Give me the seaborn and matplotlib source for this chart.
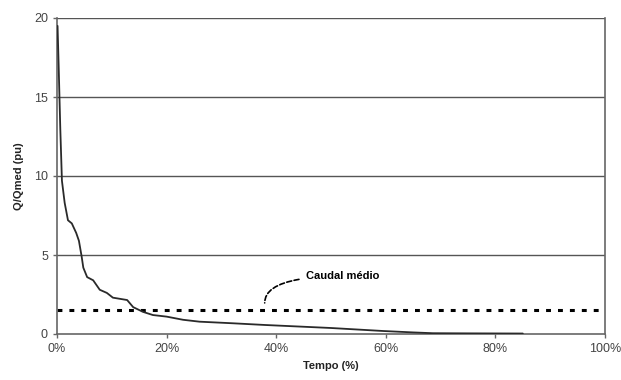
import matplotlib
matplotlib.use("Agg")
import matplotlib.pyplot as plt
import seaborn as sns
import pandas as pd
from matplotlib.ticker import PercentFormatter

# Duration curve (time % vs Q/Qmed)
tempo_pct = [0.1, 0.3, 0.6, 0.9, 1.4, 2.0, 2.7, 3.5, 4.0, 4.5, 4.8, 5.5, 6.6, 7.8,
             9.1, 10.2, 12.8, 13.9, 15.7, 17.5, 20.0, 23.0, 26.0, 32.0, 38.0,
             50.0, 59.5, 65.0, 68.6, 75.0, 85.0]
q_qmed = [19.5, 17.0, 13.0, 9.7, 8.3, 7.2, 7.0, 6.4, 5.9, 4.9, 4.2, 3.6, 3.4, 2.8,
          2.6, 2.3, 2.15, 1.7, 1.4, 1.2, 1.1, 0.9, 0.78, 0.68, 0.57,
          0.38, 0.19, 0.1, 0.05, 0.04, 0.03]
caudal_medio = 1.52
annotation_label = "Caudal médio"
x_ticks = [0, 20, 40, 60, 80, 100]
y_ticks = [0, 5, 10, 15, 20]

df = pd.DataFrame({"Tempo": tempo_pct, "Q": q_qmed})

sns.set_theme(style="white")
plt.rcParams["font.family"] = ["Liberation Sans", "DejaVu Sans"]

fig = plt.figure(figsize=(6.21, 3.80), dpi=100)
ax = fig.add_axes([57 / 621, 46 / 380, 548 / 621, 316 / 380])

ax.set_xlim(0, 100)
ax.set_ylim(0, 20)
ax.set_yticks(y_ticks)
ax.set_xticks(x_ticks)
ax.xaxis.set_major_formatter(PercentFormatter(decimals=0))

for yv in y_ticks[1:]:
    ax.axhline(yv, color="#555555", lw=1.0, zorder=1)

sns.lineplot(data=df, x="Tempo", y="Q", ax=ax, color="#2a2a2a", lw=1.3, zorder=3)
ax.axhline(caudal_medio, color="black", lw=2.2, ls=(0, (1.6, 2.3)), zorder=2)

ax.annotate(annotation_label, xy=(37.9, caudal_medio + 0.45), xytext=(45.5, 3.65),
            fontsize=8, fontweight="bold", color="black", va="center", ha="left",
            family=["Liberation Sans Narrow", "Liberation Sans", "DejaVu Sans"],
            arrowprops=dict(arrowstyle="-", color="black", lw=1.2, ls=(0, (3, 1.5)),
                            connectionstyle="angle3,angleA=0,angleB=90",
                            shrinkA=3, shrinkB=0))

for side in ["left", "right", "bottom"]:
    ax.spines[side].set_visible(True)
    ax.spines[side].set_color("#666666")
    ax.spines[side].set_linewidth(1.2)
ax.spines["top"].set_visible(False)

ax.tick_params(axis="both", which="major", length=3, width=1, color="#666666",
               labelsize=9, labelcolor="#444444", direction="out", bottom=True, left=True)

ax.set_xlabel("Tempo (%)", fontsize=8, fontweight="bold", color="#222222", labelpad=4)
ax.set_ylabel("Q/Qmed (pu)", fontsize=8, fontweight="bold", color="#222222", labelpad=7)

fig.savefig("out.png", dpi=100, facecolor="white")
